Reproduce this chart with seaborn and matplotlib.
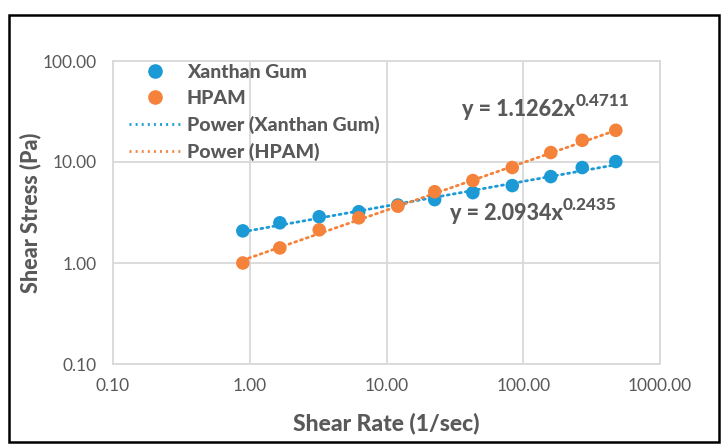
import numpy as np
import pandas as pd
import matplotlib
matplotlib.use("Agg")
import matplotlib.pyplot as plt
from matplotlib.patches import Rectangle
from matplotlib.lines import Line2D
import seaborn as sns

# ---- data ----
shear_rate = [0.89, 1.66, 3.22, 6.27, 12.1, 22.5, 42.8, 83.1, 159, 270, 475]
xanthan = [2.08, 2.50, 2.87, 3.22, 3.75, 4.24, 4.97, 5.84, 7.17, 8.81, 10.1]
hpam = [1.00, 1.41, 2.13, 2.80, 3.65, 5.08, 6.55, 8.82, 12.4, 16.4, 20.6]
series_names = ["Xanthan Gum", "HPAM"]
fit_coef = [2.0934, 1.1262]
fit_exp = [0.2435, 0.4711]
x_ticks = [0.1, 1, 10, 100, 1000]
x_tick_labels = ["0.10", "1.00", "10.00", "100.00", "1000.00"]
y_ticks = [0.1, 1, 10, 100]
y_tick_labels = ["0.10", "1.00", "10.00", "100.00"]

BLUE = "#1B9AD6"
ORANGE = "#F5823A"
GRAY = "#595959"
GRID = "#D9D9D9"

sns.set_theme(style="white")
plt.rcParams["font.family"] = ["Lato", "DejaVu Sans"]

df = pd.DataFrame({
    "rate": shear_rate * 2,
    "stress": xanthan + hpam,
    "series": [series_names[0]] * len(shear_rate) + [series_names[1]] * len(shear_rate),
})

fit_rows = []
xs = np.geomspace(min(shear_rate), max(shear_rate), 60)
for name, a, b in zip(series_names, fit_coef, fit_exp):
    for xv in xs:
        fit_rows.append({"rate": xv, "stress": a * xv ** b, "series": name})
fit_df = pd.DataFrame(fit_rows)

fig = plt.figure(figsize=(7.28, 4.48), dpi=100)
ax = fig.add_axes([113 / 728, 1 - 364 / 448, 547 / 728, 303 / 448])

palette = {series_names[0]: BLUE, series_names[1]: ORANGE}
sns.lineplot(data=fit_df, x="rate", y="stress", hue="series", palette=palette,
             ax=ax, legend=False, linewidth=2.0, zorder=2)
for l in ax.lines:
    l.set_linestyle((0, (0.7, 1.5)))
    l.set_dash_capstyle("round")
sns.scatterplot(data=df, x="rate", y="stress", hue="series", palette=palette,
                ax=ax, s=95, edgecolor="none", legend=False, zorder=3)

ax.set_xscale("log")
ax.set_yscale("log")
ax.set_xlim(0.1, 1000)
ax.set_ylim(0.1, 100)
ax.set_xticks(x_ticks)
ax.set_xticklabels(x_tick_labels)
ax.set_yticks(y_ticks)
ax.set_yticklabels(y_tick_labels)
ax.minorticks_off()
ax.tick_params(axis="both", length=0, labelsize=12.5, labelcolor=GRAY)
ax.tick_params(axis="x", pad=10)
ax.tick_params(axis="y", pad=12)
ax.grid(True, color=GRID, linewidth=1.3)
for sp in ax.spines.values():
    sp.set_color(GRID)
    sp.set_linewidth(1.3)

ax.set_xlabel("Shear Rate (1/sec)", fontsize=16.5, fontweight="black", color=GRAY)
ax.xaxis.label.set_va("center")
ax.xaxis.set_label_coords(0.5, -(423 - 364) / 303)
ax.set_ylabel("Shear Stress (Pa)", fontsize=15.5, fontweight="black", color=GRAY)
ax.yaxis.label.set_va("center")
ax.yaxis.set_label_coords(-(113 - 30) / 547, 0.5)

# legend
handles = [
    Line2D([], [], marker="o", linestyle="none", color=BLUE, markersize=9.5),
    Line2D([], [], marker="o", linestyle="none", color=ORANGE, markersize=9.5),
    Line2D([], [], color=BLUE, linewidth=2, linestyle=(0, (0.7, 1.5))),
    Line2D([], [], color=ORANGE, linewidth=2, linestyle=(0, (0.7, 1.5))),
]
labels = [series_names[0], series_names[1],
          f"Power ({series_names[0]})", f"Power ({series_names[1]})"]
leg = ax.legend(handles, labels, loc="upper left", bbox_to_anchor=(0.03, 0.99),
                frameon=False, borderpad=0, borderaxespad=0,
                handlelength=2.6, handletextpad=0.35, labelspacing=0.46,
                prop={"weight": "black", "size": 14})
for t in leg.get_texts():
    t.set_color(GRAY)

# equation labels
def equation(xf, yf, a, b):
    t = ax.text(xf, yf, f"y = {a:.4f}x", transform=ax.transAxes, fontsize=15.5,
                fontweight="black", color=GRAY, ha="left", va="center", zorder=5)
    ax.annotate(f"{b:.4f}", xy=(1.0, 0.55), xycoords=t, fontsize=12.3,
                fontweight="black", color=GRAY, ha="left", va="bottom", zorder=5)

equation((462 - 113) / 547, (364 - 110) / 303, fit_coef[1], fit_exp[1])
equation((450 - 113) / 547, (364 - 214) / 303, fit_coef[0], fit_exp[0])

fig.patches.append(Rectangle((9 / 728, 1 - 442 / 448), 710 / 728, 427 / 448,
                             transform=fig.transFigure, fill=False,
                             edgecolor="black", linewidth=1.8))

fig.savefig("out.png", dpi=100)
